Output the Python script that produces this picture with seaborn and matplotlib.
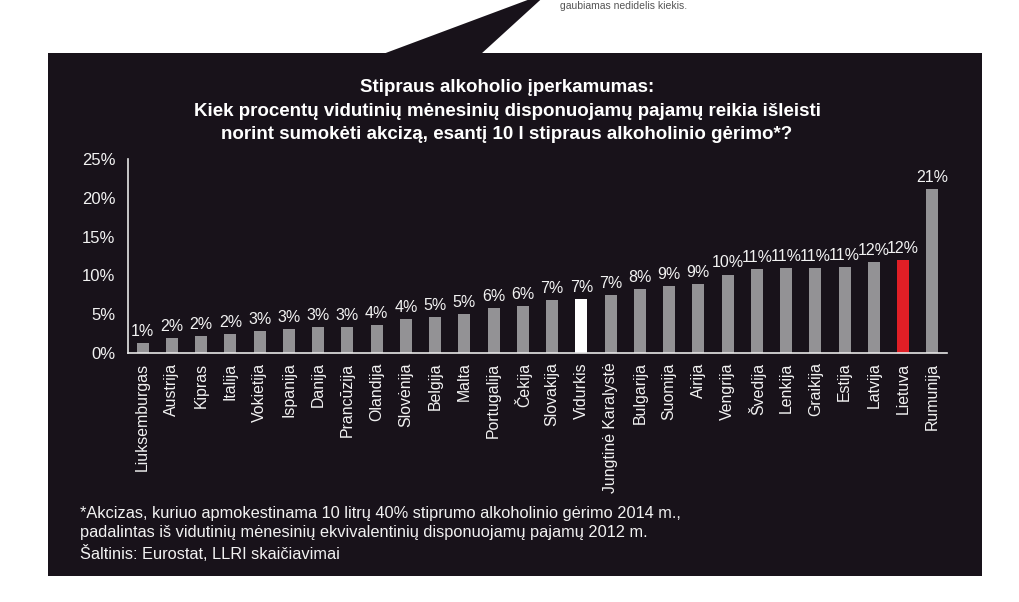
import matplotlib
matplotlib.use("Agg")
import matplotlib.pyplot as plt
from matplotlib.patches import Rectangle, Polygon
import pandas as pd
import seaborn as sns

# duomenys
salys = ['Liuksemburgas', 'Austrija', 'Kipras', 'Italija', 'Vokietija', 'Ispanija',
         'Danija', 'Prancūzija', 'Olandija', 'Slovėnija', 'Belgija', 'Malta',
         'Portugalija', 'Čekija', 'Slovakija', 'Vidurkis', 'Jungtinė Karalystė',
         'Bulgarija', 'Suomija', 'Airija', 'Vengrija', 'Švedija', 'Lenkija',
         'Graikija', 'Estija', 'Latvija', 'Lietuva', 'Rumunija']
procentai = [1.29, 1.86, 2.2, 2.38, 2.8, 3.06, 3.28, 3.32, 3.52, 4.35, 4.6, 5.04,
             5.81, 6.03, 6.76, 6.93, 7.41, 8.18, 8.66, 8.87, 10.1, 10.85, 10.94,
             10.98, 11.07, 11.76, 11.97, 21.19]
y_ticks = [0, 5, 10, 15, 20, 25]

PILKA = '#939295'
FONAS = '#18121a'
spalvos = {s: PILKA for s in salys}
spalvos['Vidurkis'] = '#ffffff'
spalvos['Lietuva'] = '#e01f26'

df = pd.DataFrame({'salis': salys, 'proc': procentai})

sns.set_style('white')
plt.rcParams['font.family'] = ['Liberation Sans', 'DejaVu Sans']

W, H = 1019, 602
fig = plt.figure(figsize=(W / 100, H / 100), dpi=100, facecolor='white')

# tamsus fonas ir "burbulo" trikampis
fig.patches.append(Rectangle((48 / W, 1 - 576 / H), 934 / W, 523 / H,
                             transform=fig.transFigure, facecolor=FONAS,
                             edgecolor='none', zorder=-5))
fig.patches.append(Polygon([(383 / W, 1 - 54 / H), (481 / W, 1 - 54 / H),
                            (549 / W, 1 + 8 / H)], closed=True,
                           transform=fig.transFigure, facecolor=FONAS,
                           edgecolor='none', zorder=-5))
fig.text(560 / W, 1 - 1 / H, 'gaubiamas nedidelis kiekis.', color='#555555',
         fontsize=7.5, ha='left', va='top')

ax = fig.add_axes([128 / W, 1 - 352.7 / H, (947 - 128) / W, (352.7 - 159.3) / H])
ax.set_zorder(5)
ax.set_facecolor('none')

sns.barplot(data=df, x='salis', y='proc', hue='salis', palette=spalvos,
            legend=False, width=0.41, saturation=1, linewidth=0,
            edgecolor='none', ax=ax)

for c in ax.containers:
    ax.bar_label(c, fmt='%.0f%%', padding=3, color='#f2f2f2', fontsize=11.5)

ax.set_xlim(-0.5, len(salys) - 0.5)
ax.set_ylim(0, 25)
ax.set_yticks(y_ticks)
ax.set_yticklabels([f'{t}%' for t in y_ticks])
ax.set_xlabel('')
ax.set_ylabel('')

ax.set_xticks(range(len(salys)))
ax.set_xticklabels(salys, rotation=90)
ax.set_xticks([i + 0.5 for i in range(-1, len(salys))], minor=True)
ax.tick_params(axis='x', which='major', length=0, pad=7, colors='#f2f2f2', labelsize=11.4)
ax.tick_params(axis='x', which='minor', length=4, width=1, color='#e0e0e0', direction='out')
ax.tick_params(axis='y', length=5, width=1, color='#e0e0e0', colors='#f2f2f2',
               labelsize=12, pad=4)

for s in ['top', 'right']:
    ax.spines[s].set_visible(False)
for s in ['left', 'bottom']:
    ax.spines[s].set_color('#e6e6e6')
    ax.spines[s].set_linewidth(1.2)

fig.text(507 / W, 1 - 111 / H,
         'Stipraus alkoholio įperkamumas:\n'
         'Kiek procentų vidutinių mėnesinių disponuojamų pajamų reikia išleisti\n'
         'norint sumokėti akcizą, esantį 10 l stipraus alkoholinio gėrimo*?',
         color='white', fontsize=13.5, fontweight='bold', ha='center', va='center',
         multialignment='center', linespacing=1.5)

fig.text(80 / W, 1 - 534 / H,
         '*Akcizas, kuriuo apmokestinama 10 litrų 40% stiprumo alkoholinio gėrimo 2014 m.,\n'
         'padalintas iš vidutinių mėnesinių ekvivalentinių disponuojamų pajamų 2012 m.\n'
         'Šaltinis: Eurostat, LLRI skaičiavimai',
         color='#f2f2f2', fontsize=11.8, ha='left', va='center', linespacing=1.35)

fig.savefig('out.png', dpi=100, facecolor='white')
